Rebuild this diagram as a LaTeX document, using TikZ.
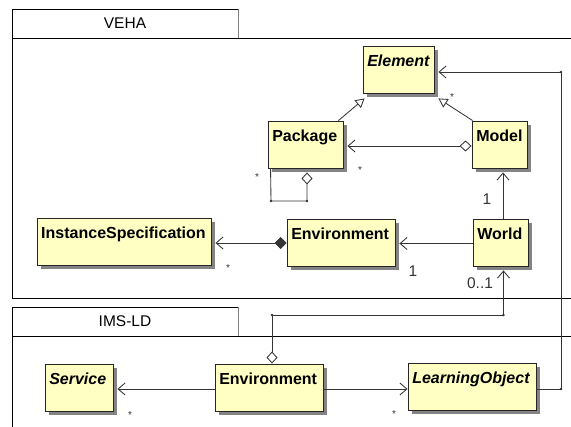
\documentclass[tikz,border=0pt]{standalone}
\usepackage{fontspec}
\setmainfont{Liberation Sans}
\usetikzlibrary{arrows.meta,shadows,calc}
\definecolor{clsfill}{HTML}{FFFFC4}
\definecolor{linec}{HTML}{353535}
\begin{document}
\begin{tikzpicture}[x=1pt,y=-1pt,
  cls/.style={draw=black!85, fill=clsfill, line width=0.9pt, minimum height=47pt, inner sep=0pt,
    drop shadow={shadow xshift=4pt, shadow yshift=-4pt, fill=black!60, opacity=0.8}},
  clslab/.style={anchor=north west, inner sep=0pt, xshift=4.5pt, yshift=-9pt,
    font=\fontsize{16}{19}\selectfont\bfseries},
  abslab/.style={clslab, font=\fontsize{16}{19}\selectfont\bfseries\itshape},
  pkgline/.style={draw=black, line width=0.9pt},
  pkgtitle/.style={inner sep=0pt, font=\fontsize{15.5}{18}\selectfont},
  conn/.style={draw=linec, line width=0.85pt},
  odia/.tip={Diamond[open,length=12pt,width=11pt]},
  fdia/.tip={Diamond[length=12pt,width=12pt]},
  barb/.tip={Straight Barb[length=7pt,width=12pt]},
  nav/.style={conn, -barb},
  gen/.style={conn, -{Triangle[open,length=9pt,width=10pt]}},
  mult/.style={inner sep=0pt, font=\fontsize{15.5}{18}\selectfont, text=linec},
  starl/.style={inner sep=0pt, font=\fontsize{10}{12}\selectfont, text=linec},
  jdot/.style={fill=linec}
]
\fill[white] (0,0) rectangle (571,427);
\useasboundingbox (0,0) rectangle (571,427);

% VEHA package
\draw[pkgline] (12,38) -- (12,9) -- (238,9);
\draw[draw=gray, line width=0.9pt] (238,9) -- (238,38);
\draw[pkgline] (571,38) -- (12,38) -- (12,298) -- (571,298);
\node[pkgtitle] (vehaT) at (125,23.5) {VEHA};

% IMS-LD package
\draw[pkgline] (12,336) -- (12,307) -- (238,307);
\draw[draw=gray, line width=0.9pt] (238,307) -- (238,336);
\draw[pkgline] (571,336) -- (12,336) -- (12,427);
\node[pkgtitle] (imsT) at (125,321.5) {IMS-LD};

% classes
\node[cls, minimum width=71pt, label={[abslab]north west:Element}] (elem) at (398.5,69.5) {};
\node[cls, minimum width=75pt, label={[clslab]north west:Package}] (pkg) at (305.5,144.5) {};
\node[cls, minimum width=55pt, label={[clslab]north west:Model}] (model) at (499.5,144.5) {};
\node[cls, minimum width=174pt, label={[clslab]north west:InstanceSpecification}] (inst) at (124,241.5) {};
\node[cls, minimum width=108pt, label={[clslab]north west:Environment}] (envv) at (341,242.5) {};
\node[cls, minimum width=55pt, label={[clslab]north west:World}] (world) at (500.5,242.5) {};
\node[cls, minimum width=68pt, label={[abslab]north west:Service}] (serv) at (79,387.5) {};
\node[cls, minimum width=108pt, label={[clslab]north west:Environment}] (envi) at (269,387.5) {};
\node[cls, minimum width=128pt, label={[abslab]north west:LearningObject}] (lo) at (472,386.5) {};

% generalizations
\draw[gen] ([xshift=-5pt]pkg.north east) -- ([xshift=2pt,yshift=-5pt]elem.south west);
\draw[gen] ([xshift=1pt]model.north west) -- ([xshift=4pt,yshift=-5pt]elem.south east);

% Model -> Package
\draw[conn, odia-barb] ($(model.west)+(0,1.5)$) -- ($(pkg.east)+(4,1.5)$);

% Package self loop
\coordinate (loopL) at (271,201);
\coordinate (loopR) at (307,201);
\draw[conn, -odia] ([xshift=3pt]pkg.south west) -- (loopL) -- (loopR) -- ($(pkg.south)+(1.5,4)$);
\fill[jdot] (loopL) circle (1.4pt);
\fill[jdot] (loopR) circle (1.4pt);

% Environment -> InstanceSpecification
\draw[conn, fdia-barb] ($(envv.west)+(0,0.5)$) -- ($(inst.east)+(4,1.5)$);

% World -> Environment
\draw[nav] ($(world.west)+(0,1)$) -- ($(envv.east)+(4,1)$);

% World -> Model
\draw[nav] ($(world.north)+(2.5,0)$) -- ($(model.south)+(3.5,4)$);

% IMS Environment -> World
\coordinate (jL) at (272,315);
\coordinate (jR) at (503.5,315);
\draw[conn, odia-barb] ($(envi.north)+(3,0)$) -- (jL) -- (jR) -- ($(world.south)+(3,4)$);
\fill[jdot] (jL) circle (1.4pt);
\fill[jdot] (jR) circle (1.4pt);

% LearningObject -> Element
\coordinate (kB) at (561,389);
\coordinate (kT) at (561,72);
\draw[nav] ($(lo.east)+(0,2.5)$) -- (kB) -- (kT) -- ($(elem.east)+(4,2.5)$);
\fill[jdot] (kB) circle (1.4pt);
\fill[jdot] (kT) circle (1.4pt);

% IMS Environment -> LearningObject / Service
\draw[nav] ($(envi.east)+(0,1.5)$) -- ($(lo.west)+(0,2.5)$);
\draw[nav] ($(envi.west)+(0,1.5)$) -- ($(serv.east)+(4,1.5)$);

% multiplicities
\node[starl] (s1) at (452,97) {*};
\node[starl] (s2) at (360,170) {*};
\node[starl] (s3) at (257,177) {*};
\node[starl] (s4) at (228,268) {*};
\node[starl] (s5) at (130,415) {*};
\node[starl] (s6) at (394,414) {*};
\node[mult] (n1) at (487,199) {1};
\node[mult] (n2) at (413,271) {1};
\node[mult] (n3) at (480,283) {0..1};
\end{tikzpicture}
\end{document}
